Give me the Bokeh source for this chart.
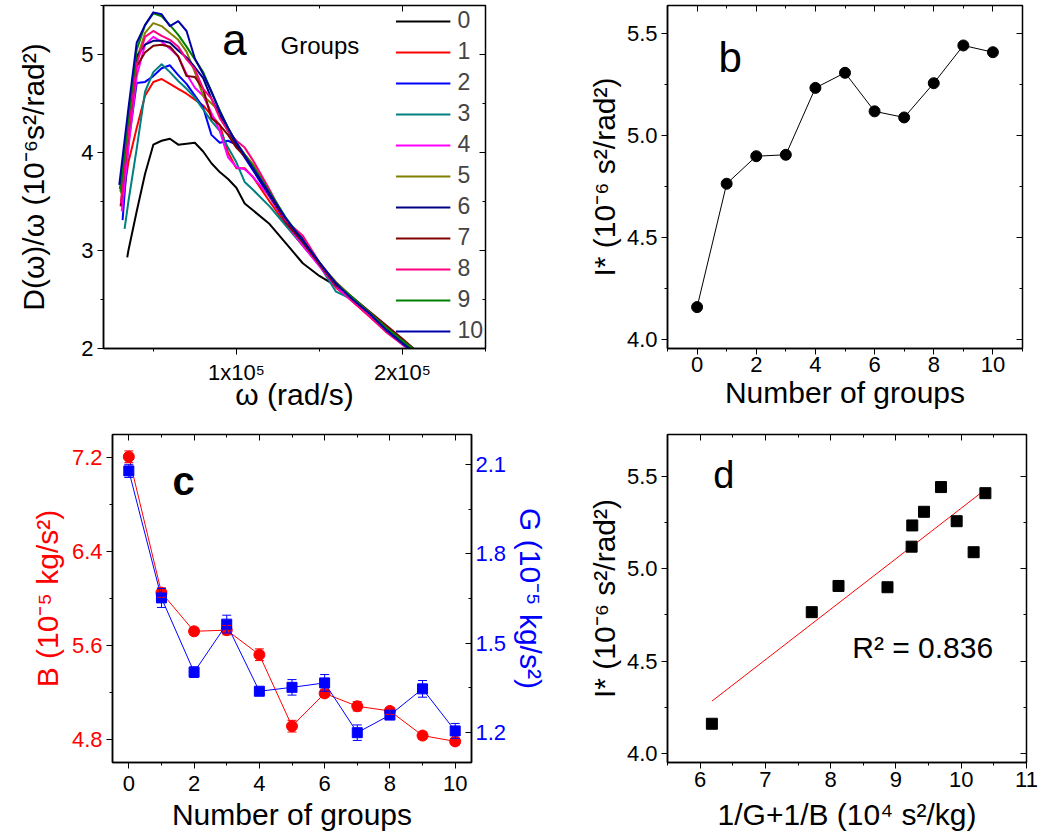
from bokeh.plotting import figure
from bokeh.layouts import column, row
from bokeh.models import (Range1d, LinearAxis, SingleIntervalTicker, Label,
                          Whisker, TeeHead, ColumnDataSource, NumeralTickFormatter)
from bokeh.embed import file_html
from bokeh.resources import INLINE
import numpy as np

FONT = "Liberation Sans"

# ---------------- panel a data (omega in 10^3 rad/s, D/omega in 10^-6 s^2/rad^2)
group_names = ["0", "1", "2", "3", "4", "5", "6", "7", "8", "9", "10"]
group_colors = ["#000000", "#FF0000", "#0000FF", "#008080", "#FF00FF", "#808000",
                "#000080", "#800000", "#FF0080", "#008000", "#0000A8"]
start_omega = [34.3, 31.5, 31.5, 32.7, 31.0, 30.5, 30.0, 30.3, 30.5, 30.2, 29.5]
start_D = [2.93, 3.52, 3.31, 3.22, 3.40, 3.58, 3.63, 3.45, 3.48, 3.60, 3.67]
omega_grid = [35, 40, 45, 50, 55, 60, 65, 70, 75, 80, 85, 90, 95, 100, 105, 110,
              120, 130, 140, 150, 160, 170, 180, 190, 200, 210]
D_0 = [3.00, 3.40, 3.78, 4.08, 4.12, 4.14, 4.08, 4.09, 4.10, 4.01, 3.89, 3.80, 3.73,
       3.64, 3.48, 3.41, 3.27, 3.07, 2.87, 2.74, 2.64, 2.50, 2.37, 2.22, 2.07, 1.93]
D_1 = [3.90, 4.25, 4.58, 4.72, 4.75, 4.70, 4.65, 4.60, 4.54, 4.48, 4.38, 4.28, 4.00,
       3.84, 3.84, 3.75, 3.50, 3.26, 3.05, 2.85, 2.62, 2.48, 2.33, 2.18, 2.05, 1.92]
D_2 = [4.09, 4.71, 4.72, 4.78, 4.86, 4.89, 4.79, 4.70, 4.58, 4.46, 4.18, 4.10, 4.12,
       4.08, 3.95, 3.82, 3.55, 3.28, 3.08, 2.86, 2.64, 2.50, 2.35, 2.20, 2.06, 1.93]
D_3 = [3.50, 4.04, 4.62, 4.82, 4.90, 4.82, 4.73, 4.65, 4.56, 4.44, 4.32, 4.22, 4.05,
       3.90, 3.70, 3.62, 3.45, 3.25, 3.05, 2.85, 2.58, 2.50, 2.36, 2.21, 2.08, 1.96]
D_4 = [4.05, 4.78, 5.10, 5.18, 5.13, 5.06, 4.98, 4.80, 4.66, 4.58, 4.40, 4.22, 3.95,
       3.85, 3.83, 3.75, 3.55, 3.28, 3.05, 2.84, 2.63, 2.48, 2.34, 2.18, 2.04, 1.92]
D_5 = [4.25, 4.95, 5.22, 5.32, 5.29, 5.22, 5.15, 5.03, 4.82, 4.58, 4.50, 4.42, 4.25,
       4.10, 3.98, 3.88, 3.60, 3.32, 3.08, 2.87, 2.68, 2.52, 2.36, 2.21, 2.08, 1.94]
D_6 = [4.35, 4.98, 5.10, 5.14, 5.14, 5.12, 5.04, 4.97, 4.87, 4.76, 4.55, 4.38, 4.22,
       4.08, 3.96, 3.83, 3.56, 3.30, 3.12, 2.86, 2.67, 2.50, 2.36, 2.20, 2.06, 1.93]
D_7 = [4.20, 4.88, 5.02, 5.09, 5.10, 5.08, 4.98, 4.78, 4.77, 4.65, 4.35, 4.28, 4.18,
       4.05, 3.96, 3.85, 3.58, 3.28, 3.08, 2.86, 2.64, 2.52, 2.38, 2.24, 2.10, 1.95]
D_8 = [4.20, 4.90, 5.18, 5.24, 5.19, 5.15, 5.08, 4.95, 4.85, 4.65, 4.55, 4.35, 4.22,
       4.12, 4.05, 3.92, 3.62, 3.30, 3.15, 2.88, 2.66, 2.48, 2.33, 2.17, 2.04, 1.92]
D_9 = [4.35, 5.05, 5.30, 5.42, 5.39, 5.30, 5.20, 5.08, 4.95, 4.82, 4.62, 4.43, 4.25,
       4.10, 3.98, 3.86, 3.60, 3.33, 3.10, 2.88, 2.66, 2.52, 2.37, 2.22, 2.08, 1.95]
D_10 = [4.45, 5.12, 5.30, 5.43, 5.41, 5.29, 5.34, 5.24, 4.96, 4.80, 4.62, 4.42, 4.25,
        4.10, 3.97, 3.84, 3.58, 3.32, 3.10, 2.88, 2.66, 2.50, 2.36, 2.19, 2.05, 1.92]
D_curves = [D_0, D_1, D_2, D_3, D_4, D_5, D_6, D_7, D_8, D_9, D_10]

# ---------------- panel b / c / d data
groups = [0, 1, 2, 3, 4, 5, 6, 7, 8, 9, 10]
I_star = [4.16, 4.765, 4.90, 4.907, 5.235, 5.309, 5.12, 5.09, 5.258, 5.443, 5.41]
B_mod = [7.21, 6.05, 5.72, 5.73, 5.52, 4.91, 5.19, 5.08, 5.04, 4.83, 4.78]
B_err = [0.05, 0.04, 0.03, 0.04, 0.05, 0.05, 0.03, 0.04, 0.03, 0.03, 0.03]
G_mod = [2.078, 1.652, 1.403, 1.564, 1.339, 1.352, 1.367, 1.200, 1.259, 1.347, 1.206]
G_err = [0.022, 0.032, 0.018, 0.030, 0.010, 0.026, 0.028, 0.026, 0.014, 0.028, 0.025]
inv_sum = [6.18, 7.71, 8.87, 8.12, 9.25, 9.43, 9.24, 10.19, 9.93, 9.69, 10.37]
r2_text = "R\u00b2 = 0.836"

TICK = "22px"
ALAB = "30px"


def make_fig(w, h, xr, yr, mbl, mbr, mbt, mbb):
    p = figure(width=w, height=h, x_range=Range1d(*xr), y_range=Range1d(*yr),
               output_backend="svg", toolbar_location=None,
               min_border_left=mbl, min_border_right=mbr,
               min_border_top=mbt, min_border_bottom=mbb)
    p.grid.visible = False
    p.outline_line_color = "black"
    p.outline_line_width = 1.5
    p.background_fill_color = "white"
    p.border_fill_color = "white"
    return p


def style_axis(ax, ticker, label, color="black", standoff=4, ticks_in=False,
               label_standoff=4, fmt=None, tick_out=6):
    ax.ticker = ticker
    if fmt is not None:
        ax.formatter = fmt
    ax.axis_label = label
    ax.axis_label_text_font = FONT
    ax.axis_label_text_font_size = ALAB
    ax.axis_label_text_font_style = "normal"
    ax.axis_label_text_color = color
    ax.axis_label_standoff = standoff
    ax.major_label_text_font = FONT
    ax.major_label_text_font_size = TICK
    ax.major_label_text_color = color
    ax.major_label_standoff = label_standoff
    ax.axis_line_color = "black"
    ax.axis_line_width = 1.5
    ax.major_tick_line_color = "black"
    ax.minor_tick_line_color = "black"
    ax.major_tick_line_width = 1
    ax.minor_tick_line_width = 1
    if ticks_in:
        ax.major_tick_in, ax.major_tick_out = 6, 0
        ax.minor_tick_in, ax.minor_tick_out = 3, 0
    else:
        ax.major_tick_in, ax.major_tick_out = 0, tick_out
        ax.minor_tick_in, ax.minor_tick_out = 0, 3


def add_mirror(p, ticker, side):
    ax = LinearAxis(ticker=ticker, major_label_text_font_size="1px",
                    major_label_text_color=None,
                    major_label_standoff=0, axis_label=None,
                    major_tick_in=6, major_tick_out=0, minor_tick_in=3,
                    minor_tick_out=0, axis_line_color=None,
                    major_tick_line_color="black", minor_tick_line_color="black")
    p.add_layout(ax, side)


def letter(p, x, y, txt, size, bold=False, color="black"):
    p.add_layout(Label(x=x, y=y, text=txt, text_font=FONT, text_font_size=size,
                       text_font_style="bold" if bold else "normal",
                       text_color=color, text_baseline="middle",
                       text_align="left"))


def one_dec():
    return NumeralTickFormatter(format="0.0")


# frames in a row share top/bottom edges: row 1 frame 5..348, row 2 frame 434..762
# ---------------- panel a
pa = make_fig(520, 426, (2e4, 2.5e5), (2.0, 5.5), 103, 35, 5, 78)
xa_t = SingleIntervalTicker(interval=1e5, num_minor_ticks=2)
ya_t = SingleIntervalTicker(interval=1, num_minor_ticks=2)
style_axis(pa.xaxis[0], xa_t, "\u03c9 (rad/s)", standoff=-10, label_standoff=5)
pa.xaxis[0].major_label_overrides = {100000: "1x10\u2075", 200000: "2x10\u2075"}
style_axis(pa.yaxis[0], ya_t, "D(\u03c9)/\u03c9 (10\u207b\u2076s\u00b2/rad\u00b2)", standoff=28)
add_mirror(pa, xa_t, "above")
add_mirror(pa, ya_t, "right")
for name, col, w0, d0, curve in zip(group_names, group_colors, start_omega, start_D, D_curves):
    xs = [w0 * 1e3] + [w * 1e3 for w in omega_grid]
    ys = [d0] + curve
    pa.line(xs, ys, line_color=col, line_width=2, line_join="round", legend_label=name)
lg = pa.legend[0]
lg.location = "top_right"
lg.margin = 0
lg.padding = 2
lg.spacing = 4
lg.glyph_width = 55
lg.glyph_height = 20
lg.label_height = 20
lg.label_standoff = 7
lg.label_text_font = FONT
lg.label_text_font_size = "23px"
lg.background_fill_alpha = 0
lg.border_line_alpha = 0
letter(pa, 9.15e4, 5.157, "a", "44px")
letter(pa, 1.266e5, 5.095, "Groups", "24px")

# ---------------- panel b
pb = make_fig(540, 426, (-1, 11), (3.957, 5.639), 147, 38, 5, 78)
xb_t = SingleIntervalTicker(interval=2, num_minor_ticks=2)
yb_t = SingleIntervalTicker(interval=0.5, num_minor_ticks=2)
style_axis(pb.xaxis[0], xb_t, "Number of groups", standoff=1, label_standoff=2)
style_axis(pb.yaxis[0], yb_t, "I* (10\u207b\u2076 s\u00b2/rad\u00b2)", standoff=3, fmt=one_dec())
add_mirror(pb, xb_t, "above")
add_mirror(pb, yb_t, "right")
pb.line(groups, I_star, line_color="black", line_width=1)
pb.scatter(groups, I_star, marker="circle", size=11, fill_color="black", line_color="black")
letter(pb, 0.72, 5.382, "b", "42px")

# ---------------- panel c
pc = make_fig(550, 408, (-0.5, 10.5), (4.6, 7.4), 112, 72, 8, 72)
pc.extra_y_ranges = {"g": Range1d(1.1, 2.2)}
xc_t = SingleIntervalTicker(interval=2, num_minor_ticks=2)
yc_t = SingleIntervalTicker(interval=0.8, num_minor_ticks=2)
gc_t = SingleIntervalTicker(interval=0.3, num_minor_ticks=2)
style_axis(pc.xaxis[0], xc_t, "Number of groups", standoff=4, label_standoff=7, tick_out=6)
style_axis(pc.yaxis[0], yc_t, "B (10\u207b\u2075 kg/s\u00b2)", color="#FF0000", standoff=5,
           fmt=one_dec())
add_mirror(pc, xc_t, "above")
g_axis = LinearAxis(y_range_name="g")
style_axis(g_axis, gc_t, "G (10\u207b\u2075 kg/s\u00b2)", color="#0000FF", standoff=5,
           ticks_in=True, fmt=one_dec())
pc.add_layout(g_axis, "right")

b_src = ColumnDataSource(dict(x=groups, y=B_mod,
                              lo=[v - e for v, e in zip(B_mod, B_err)],
                              up=[v + e for v, e in zip(B_mod, B_err)]))
g_src = ColumnDataSource(dict(x=groups, y=G_mod,
                              lo=[v - e for v, e in zip(G_mod, G_err)],
                              up=[v + e for v, e in zip(G_mod, G_err)]))
pc.add_layout(Whisker(source=b_src, base="x", lower="lo", upper="up", line_color="#FF0000",
                      line_width=1, level="glyph",
                      upper_head=TeeHead(size=9, line_color="#FF0000", line_width=1),
                      lower_head=TeeHead(size=9, line_color="#FF0000", line_width=1)))
pc.add_layout(Whisker(source=g_src, base="x", lower="lo", upper="up", line_color="#0000FF",
                      line_width=1, y_range_name="g", level="glyph",
                      upper_head=TeeHead(size=9, line_color="#0000FF", line_width=1),
                      lower_head=TeeHead(size=9, line_color="#0000FF", line_width=1)))
pc.line("x", "y", source=b_src, line_color="#FF0000", line_width=1)
pc.scatter("x", "y", source=b_src, marker="circle", size=11,
           fill_color="#FF0000", line_color="#FF0000")
pc.line("x", "y", source=g_src, line_color="#0000FF", line_width=1, y_range_name="g")
pc.scatter("x", "y", source=g_src, marker="square", size=10, fill_color="#0000FF",
           line_color="#0000FF", y_range_name="g")
letter(pc, 1.34, 7.007, "c", "40px", bold=True)

# ---------------- panel d
pd_ = make_fig(510, 408, (5.5, 11), (3.95, 5.728), 117, 34, 8, 72)
xd_t = SingleIntervalTicker(interval=1, num_minor_ticks=2)
yd_t = SingleIntervalTicker(interval=0.5, num_minor_ticks=2)
style_axis(pd_.xaxis[0], xd_t, "1/G+1/B (10\u2074 s\u00b2/kg)", standoff=8, label_standoff=3)
style_axis(pd_.yaxis[0], yd_t, "I* (10\u207b\u2076 s\u00b2/rad\u00b2)", standoff=3, fmt=one_dec())
add_mirror(pd_, xd_t, "above")
add_mirror(pd_, yd_t, "right")
slope, icpt = np.polyfit(inv_sum, I_star, 1)
fx = np.array([min(inv_sum), max(inv_sum)])
pd_.line(fx, slope * fx + icpt, line_color="#FF0000", line_width=1)
pd_.scatter(inv_sum, I_star, marker="square", size=11, fill_color="black", line_color="black")
letter(pd_, 6.2, 5.508, "d", "38px")
letter(pd_, 8.33, 4.576, r2_text, "30px")

layout = column(row(pa, pb), row(pc, pd_))
open("out.html", "w").write(file_html(layout, INLINE))
